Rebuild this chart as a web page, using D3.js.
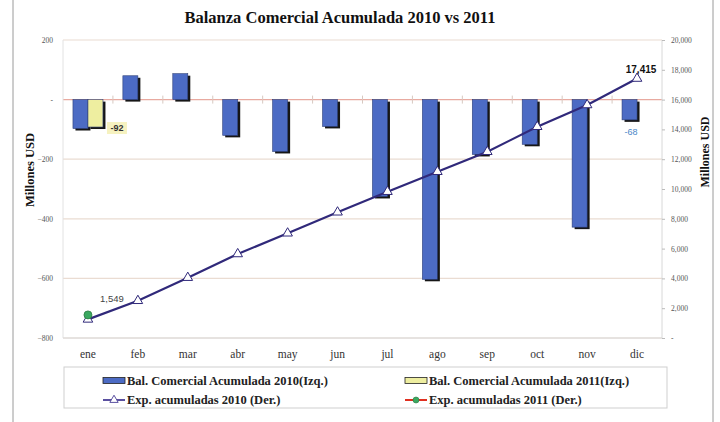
<!DOCTYPE html>
<html>
<head>
<meta charset="utf-8">
<script src="https://cdn.jsdelivr.net/npm/d3@7"></script>
<style>
  body { margin: 0; background: #fff; }
  svg { display: block; }
</style>
</head>
<body>
<script>
const w = 720;
const h = 422;

// data
const months = ['ene', 'feb', 'mar', 'abr', 'may', 'jun', 'jul', 'ago', 'sep', 'oct', 'nov', 'dic'];
const bal2010 = [-97, 80, 87, -120, -174, -90, -325, -603, -184, -150, -428, -68];
const bal2011 = [-92];
const exp2010 = [1250, 2500, 4050, 5640, 7030, 8440, 9820, 11160, 12500, 14180, 15640, 17415];
const exp2011 = [1549];
const leftTicks = [200, 0, -200, -400, -600, -800];
const rightTicks = [20000, 18000, 16000, 14000, 12000, 10000, 8000, 6000, 4000, 2000, 0];

const plot = { left: 63, right: 662, top: 40, bottom: 338 };
const serif = '"Liberation Serif", "DejaVu Serif", "Times New Roman", serif';
const sans = '"Liberation Sans", "DejaVu Sans", Arial, sans-serif';

const svg = d3.select('body')
   .append('svg')
   .attr('width', w)
   .attr('height', h);

// outer frame
svg.append('line').attr('x1', 13).attr('x2', 13).attr('y1', 0).attr('y2', h).attr('stroke', '#9a9a9a');
svg.append('line').attr('x1', 713).attr('x2', 713).attr('y1', 0).attr('y2', h).attr('stroke', '#9a9a9a');

const x = d3.scaleBand()
   .domain(months)
   .range([plot.left, plot.right]);

const xSub = d3.scaleBand()
   .domain(['2010', '2011'])
   .range([0, 30]);

const yLeft = d3.scaleLinear()
   .domain([-800, 200])
   .range([plot.bottom, plot.top]);

const yRight = d3.scaleLinear()
   .domain([0, 20000])
   .range([plot.bottom, plot.top]);

// gridlines
svg.append('g')
   .selectAll('line')
   .data(leftTicks)
   .enter()
   .append('line')
   .attr('x1', plot.left)
   .attr('x2', plot.right)
   .attr('y1', (d) => yLeft(d))
   .attr('y2', (d) => yLeft(d))
   .attr('stroke', (d) => d === 0 ? '#e8aaa0' : '#eadcd2')
   .attr('stroke-width', 1.2);

// plot frame
svg.append('line').attr('x1', plot.left).attr('x2', plot.left).attr('y1', plot.top).attr('y2', plot.bottom).attr('stroke', '#e2e2e2');
svg.append('line').attr('x1', plot.right).attr('x2', plot.right).attr('y1', plot.top).attr('y2', plot.bottom).attr('stroke', '#d8d8d8');
svg.append('line').attr('x1', plot.left).attr('x2', plot.right).attr('y1', plot.bottom).attr('y2', plot.bottom).attr('stroke', '#d8d8d8');

// category ticks on the zero line
svg.append('g')
   .selectAll('line')
   .data(months.slice(1))
   .enter()
   .append('line')
   .attr('x1', (d) => x(d))
   .attr('x2', (d) => x(d))
   .attr('y1', yLeft(0) - 4)
   .attr('y2', yLeft(0) + 4)
   .attr('stroke', '#d8c8c0');

// left axis
const yAxisL = d3.axisLeft(yLeft)
   .tickValues(leftTicks)
   .tickSize(0)
   .tickPadding(10)
   .tickFormat((d) => d === 0 ? '-' : d3.format(',')(d));

svg.append('g')
   .attr('transform', 'translate(' + plot.left + ', 0)')
   .call(yAxisL)
   .call((g) => g.select('.domain').remove())
   .selectAll('text')
   .style('font-family', serif)
   .style('font-size', '7.5px')
   .attr('fill', '#555');

// right axis
const yAxisR = d3.axisRight(yRight)
   .tickValues(rightTicks)
   .tickSize(3)
   .tickPadding(6)
   .tickFormat((d) => d === 0 ? '-' : d3.format(',')(d));

const gR = svg.append('g')
   .attr('transform', 'translate(' + plot.right + ', 0)')
   .call(yAxisR)
   .call((g) => g.select('.domain').remove());
gR.selectAll('line').attr('stroke', '#bbb');
gR.selectAll('text')
   .style('font-family', serif)
   .style('font-size', '7.5px')
   .attr('fill', '#555');

// x axis labels
const xAxis = d3.axisBottom(x).tickSize(0).tickPadding(12);
svg.append('g')
   .attr('transform', 'translate(0, ' + plot.bottom + ')')
   .call(xAxis)
   .call((g) => g.select('.domain').remove())
   .selectAll('text')
   .style('font-family', serif)
   .style('font-size', '11.5px')
   .attr('fill', '#333');

// bars (with dark drop shadow)
function drawBars(values, key, fill) {
   const g = svg.append('g');
   const bw = xSub.bandwidth();
   const bx = (d, i) => x(months[i]) + x.bandwidth() / 2 - 15 + xSub(key);
   const by = (d) => yLeft(Math.max(0, d));
   const bh = (d) => Math.abs(yLeft(d) - yLeft(0));
   g.selectAll('rect.shadow')
      .data(values)
      .enter()
      .append('rect')
      .attr('class', 'shadow')
      .attr('x', (d, i) => bx(d, i) + 2.5)
      .attr('y', (d) => by(d) + 2)
      .attr('width', bw)
      .attr('height', bh)
      .attr('fill', '#161616');
   g.selectAll('rect.bar')
      .data(values)
      .enter()
      .append('rect')
      .attr('class', 'bar')
      .attr('x', bx)
      .attr('y', by)
      .attr('width', bw)
      .attr('height', bh)
      .attr('fill', fill)
      .attr('stroke', '#2d3f78')
      .attr('stroke-width', 0.6);
}
drawBars(bal2010, '2010', '#4c6bc4');
drawBars(bal2011, '2011', '#eeeea0');

// exports 2010 line
const line = d3.line()
   .x((d, i) => x(months[i]) + x.bandwidth() / 2)
   .y((d) => yRight(d));

svg.append('path')
   .datum(exp2010)
   .attr('d', line)
   .attr('fill', 'none')
   .attr('stroke', '#30297a')
   .attr('stroke-width', 2.2);

const tri = d3.symbol().type(d3.symbolTriangle).size(40);
svg.append('g')
   .selectAll('path')
   .data(exp2010)
   .enter()
   .append('path')
   .attr('d', tri)
   .attr('transform', (d, i) => 'translate(' + (x(months[i]) + x.bandwidth() / 2) + ',' + yRight(d) + ')')
   .attr('fill', '#fff')
   .attr('stroke', '#30297a')
   .attr('stroke-width', 1);

// exports 2011
svg.append('path')
   .datum(exp2011)
   .attr('d', line)
   .attr('fill', 'none')
   .attr('stroke', '#e03020')
   .attr('stroke-width', 2);
svg.append('g')
   .selectAll('circle')
   .data(exp2011)
   .enter()
   .append('circle')
   .attr('cx', (d, i) => x(months[i]) + x.bandwidth() / 2)
   .attr('cy', (d) => yRight(d))
   .attr('r', 4)
   .attr('fill', '#3aa860')
   .attr('stroke', '#2a7a40')
   .attr('stroke-width', 0.8);

// data labels
const lbl92x = x(months[0]) + x.bandwidth() / 2 + 29;
const lbl92y = yLeft(bal2011[0]) + 3;
svg.append('rect')
   .attr('x', lbl92x - 10)
   .attr('y', lbl92y - 8)
   .attr('width', 20)
   .attr('height', 12)
   .attr('fill', '#f6f2c0');
svg.append('text')
   .attr('x', lbl92x)
   .attr('y', lbl92y + 1)
   .attr('text-anchor', 'middle')
   .style('font-family', sans)
   .style('font-size', '9px')
   .style('font-weight', 'bold')
   .attr('fill', '#333')
   .text(bal2011[0]);

svg.append('text')
   .attr('x', x(months[11]) + x.bandwidth() / 2 - 6)
   .attr('y', yLeft(bal2010[11]) + 15)
   .attr('text-anchor', 'middle')
   .style('font-family', sans)
   .style('font-size', '9px')
   .attr('fill', '#4a86c8')
   .text(bal2010[11]);

svg.append('text')
   .attr('x', x(months[11]) + x.bandwidth() / 2 + 4)
   .attr('y', yRight(exp2010[11]) - 6)
   .attr('text-anchor', 'middle')
   .style('font-family', sans)
   .style('font-size', '10px')
   .style('font-weight', 'bold')
   .attr('fill', '#111')
   .text(d3.format(',')(exp2010[11]));

svg.append('text')
   .attr('x', x(months[0]) + x.bandwidth() / 2 + 24)
   .attr('y', yRight(exp2011[0]) - 13)
   .attr('text-anchor', 'middle')
   .style('font-family', sans)
   .style('font-size', '9.5px')
   .attr('fill', '#444')
   .text(d3.format(',')(exp2011[0]));

// title
svg.append('text')
   .attr('x', 340)
   .attr('y', 23)
   .attr('text-anchor', 'middle')
   .style('font-family', serif)
   .style('font-size', '16.5px')
   .style('font-weight', 'bold')
   .attr('fill', '#111')
   .text('Balanza Comercial Acumulada 2010 vs 2011');

// axis titles
svg.append('text')
   .attr('transform', 'translate(34, 170) rotate(-90)')
   .attr('text-anchor', 'middle')
   .style('font-family', serif)
   .style('font-size', '12.5px')
   .style('font-weight', 'bold')
   .attr('fill', '#111')
   .text('Millones USD');

svg.append('text')
   .attr('transform', 'translate(709, 152) rotate(-90)')
   .attr('text-anchor', 'middle')
   .style('font-family', serif)
   .style('font-size', '12px')
   .style('font-weight', 'bold')
   .attr('fill', '#111')
   .text('Millones USD');

// legend
const legend = svg.append('g');
legend.append('rect')
   .attr('x', 64)
   .attr('y', 367)
   .attr('width', 603)
   .attr('height', 41)
   .attr('fill', '#fff')
   .attr('stroke', '#cfcfcf');

const legendItems = [
   { label: 'Bal. Comercial Acumulada 2010(Izq.)', kind: 'bar', fill: '#4c6bc4', x: 103, y: 381 },
   { label: 'Bal. Comercial Acumulada 2011(Izq.)', kind: 'bar', fill: '#eeeea0', x: 405, y: 381 },
   { label: 'Exp. acumuladas 2010 (Der.)', kind: 'tri', x: 103, y: 400 },
   { label: 'Exp. acumuladas 2011 (Der.)', kind: 'dot', x: 405, y: 400 }
];

legendItems.forEach((d) => {
   if (d.kind === 'bar') {
      legend.append('rect')
         .attr('x', d.x)
         .attr('y', d.y - 3.5)
         .attr('width', 22)
         .attr('height', 6)
         .attr('fill', d.fill)
         .attr('stroke', '#222')
         .attr('stroke-width', 0.8);
   } else {
      const col = d.kind === 'tri' ? '#5a50a0' : '#e03020';
      legend.append('line')
         .attr('x1', d.x)
         .attr('x2', d.x + 22)
         .attr('y1', d.y)
         .attr('y2', d.y)
         .attr('stroke', col)
         .attr('stroke-width', 2);
      if (d.kind === 'tri') {
         legend.append('path')
            .attr('d', d3.symbol().type(d3.symbolTriangle).size(30))
            .attr('transform', 'translate(' + (d.x + 11) + ',' + d.y + ')')
            .attr('fill', '#fff')
            .attr('stroke', '#5a50a0');
      } else {
         legend.append('circle')
            .attr('cx', d.x + 11)
            .attr('cy', d.y)
            .attr('r', 3)
            .attr('fill', '#3aa860')
            .attr('stroke', '#2a7a40')
            .attr('stroke-width', 0.6);
      }
   }
   legend.append('text')
      .attr('x', d.x + 24)
      .attr('y', d.y + 4)
      .style('font-family', serif)
      .style('font-size', '12.5px')
      .style('font-weight', 'bold')
      .attr('fill', '#222')
      .text(d.label);
});
</script>
</body>
</html>
